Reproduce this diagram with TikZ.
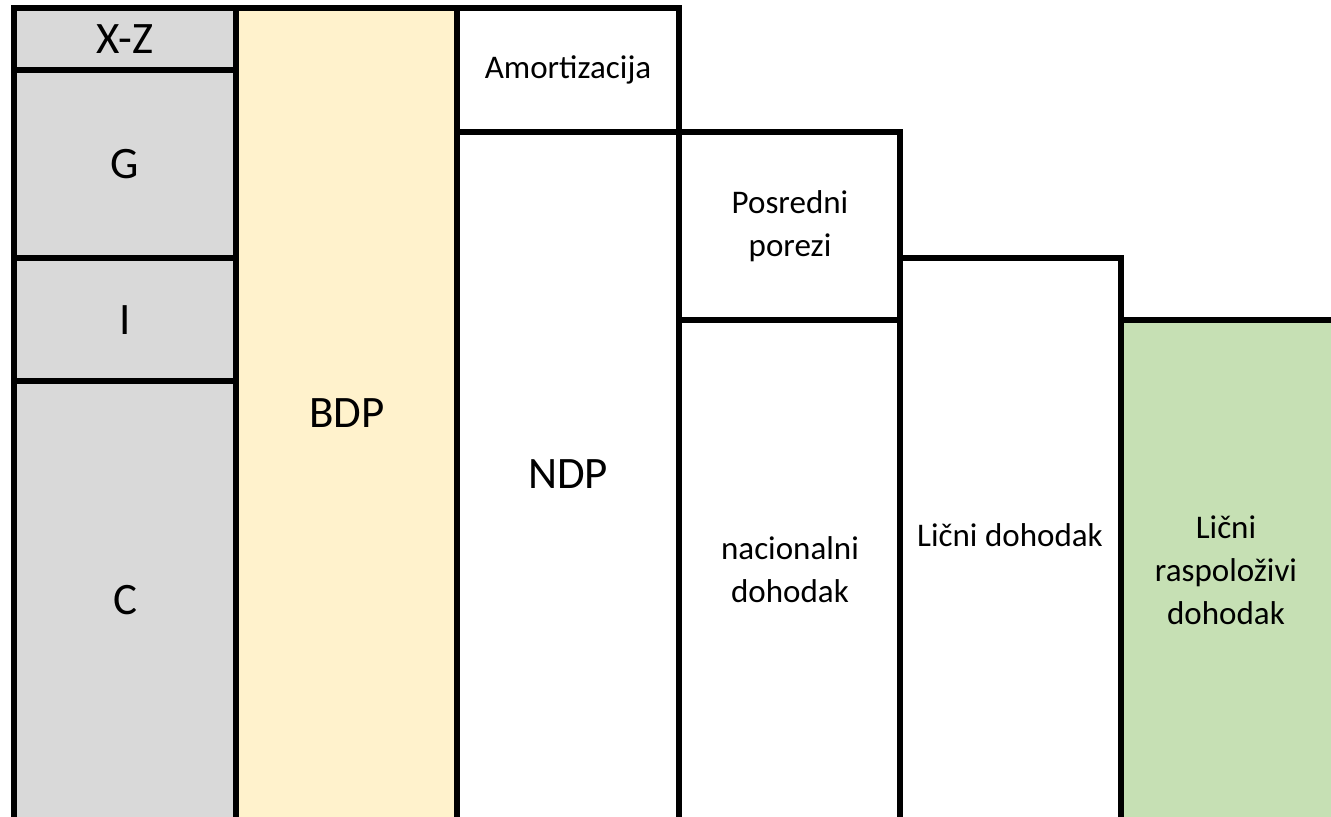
\documentclass[tikz,border=0pt]{standalone}
\usepackage{fontspec}
\setmainfont{Carlito}
\usepackage{xcolor}
\usepackage{tikz}
\definecolor{kolonagrey}{HTML}{D9D9D9}
\definecolor{kolonayellow}{HTML}{FFF2CC}
\definecolor{kolonagreen}{HTML}{C6E0B4}
\newcommand{\veliki}{\fontsize{25.6pt}{30pt}\selectfont}
\newcommand{\mali}{\fontsize{18.8pt}{24.4pt}\selectfont}

\begin{document}
\begin{tikzpicture}[x=0.02cm,y=-0.02cm,
		kolona/.style={draw=black,line width=0.11cm},
		natpis/.style={align=center,inner sep=0pt,font=\veliki},
		malinatpis/.style={align=center,inner sep=0pt,font=\mali}]
		\useasboundingbox (0,0) rectangle (1331,816);
		\fill[white] (0,0) rectangle (1331,816);
		% prva kolona
		\filldraw[kolona,fill=kolonagrey] (14,8) rectangle (236,70);
		\filldraw[kolona,fill=kolonagrey] (14,70) rectangle (236,258);
		\filldraw[kolona,fill=kolonagrey] (14,258) rectangle (236,381);
		\filldraw[kolona,fill=kolonagrey] (14,381) rectangle (236,822);
		\node[natpis] (xz) at (125,39) {X-Z};
		\node[natpis] (g) at (125,164) {G};
		\node[natpis] (i) at (125,320) {I};
		\node[natpis] (c) at (125,600) {C};
		% BDP
		\filldraw[kolona,fill=kolonayellow] (236,8) rectangle (457,822);
		\node[natpis] (bdp) at (347,413) {BDP};
		% NDP
		\filldraw[kolona,fill=white] (457,8) rectangle (679,132);
		\filldraw[kolona,fill=white] (457,132) rectangle (679,822);
		\node[malinatpis] (amort) at (568,70) {Amortizacija};
		\node[natpis] (ndp) at (568,474) {NDP};
		% nacionalni dohodak
		\filldraw[kolona,fill=white] (679,132) rectangle (900,320);
		\filldraw[kolona,fill=white] (679,320) rectangle (900,822);
		\node[malinatpis] (porezi) at (790,226) {Posredni\\porezi};
		\node[malinatpis] (nd) at (790,570) {nacionalni\\dohodak};
		% licni dohodak
		\filldraw[kolona,fill=white] (900,258) rectangle (1121,822);
		\node[malinatpis] (ld) at (1010,535) {Lični dohodak};
		\filldraw[kolona,fill=kolonagreen] (1121,320) rectangle (1345,822);
		\node[malinatpis] (lrd) at (1226,570) {Lični\\raspoloživi\\dohodak};
	\end{tikzpicture}
\end{document}
